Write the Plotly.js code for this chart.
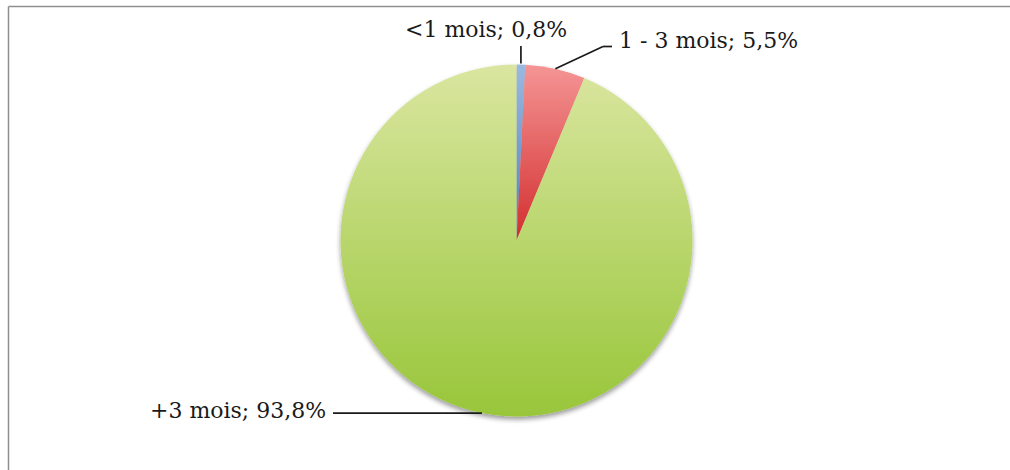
<!DOCTYPE html>
<html>
<head>
<meta charset="utf-8">
<script src="https://cdn.plot.ly/plotly-3.0.1.min.js"></script>
<style>
  html, body { margin: 0; padding: 0; background: #ffffff; }
  #chart { width: 1010px; height: 470px; }
</style>
</head>
<body>
<div id="chart"></div>
<script>
// ---- data ----
const categories = ['<1 mois', '1 - 3 mois', '+3 mois'];
const values = [0.8, 5.5, 93.8];
const valueLabels = ['0,8%', '5,5%', '93,8%'];
const colors = ['#8eacd6', '#e86a6a', '#bcd670'];
const gradientTop = ['#9ab9e0', '#f59595', '#dae6a0'];
const gradientBottom = ['#4f7fc0', '#d32e2e', '#98c63a'];

// ---- geometry of the pie (pixels in the 1010x470 page) ----
const W = 1010, H = 470;
const cx = 516.5, cy = 240.5, R = 176;

const dom = {
  x: [(cx - R) / W, (cx + R) / W],
  y: [1 - (cy + R) / H, 1 - (cy - R) / H]
};

// label anchor points (text placement)
const labelPos = [
  {x: 486, y: 30, xanchor: 'center', elbow: null},
  {x: 617, y: 40, xanchor: 'left', elbow: {x: 603, y: 46.5, end: 612}},
  {x: 328, y: 410, xanchor: 'right', elbow: null}
];

// compute mid-angles of slices from the data
const total = values.reduce((a, b) => a + b, 0);
let cum = 0;
const mids = values.map(v => { const m = (cum + v / 2) / total; cum += v; return m * 2 * Math.PI; });
const edgePts = mids.map(a => ({x: cx + R * Math.sin(a), y: cy - R * Math.cos(a)}));

const px = x => x / W;
const py = y => 1 - y / H;

const shapes = [
  // chart border (top and left)
  {type: 'line', xref: 'paper', yref: 'paper', x0: px(8.5), x1: px(1010), y0: py(6.5), y1: py(6.5), line: {color: '#8f8f8f', width: 1.5}},
  {type: 'line', xref: 'paper', yref: 'paper', x0: px(8.5), x1: px(8.5), y0: py(6.5), y1: py(470), line: {color: '#8f8f8f', width: 1.5}}
];

const lineStyle = {color: '#1a1a1a', width: 1.7};
// leader for <1 mois: vertical from slice edge up to label
shapes.push({type: 'line', xref: 'paper', yref: 'paper',
  x0: px(edgePts[0].x), y0: py(edgePts[0].y - 1), x1: px(edgePts[0].x), y1: py(46), line: lineStyle});
// leader for 1 - 3 mois: diagonal then short horizontal
shapes.push({type: 'line', xref: 'paper', yref: 'paper',
  x0: px(edgePts[1].x), y0: py(edgePts[1].y), x1: px(labelPos[1].elbow.x), y1: py(labelPos[1].elbow.y), line: lineStyle});
shapes.push({type: 'line', xref: 'paper', yref: 'paper',
  x0: px(labelPos[1].elbow.x), y0: py(labelPos[1].elbow.y), x1: px(labelPos[1].elbow.end), y1: py(labelPos[1].elbow.y), line: lineStyle});
// leader for +3 mois: horizontal from label to slice edge
shapes.push({type: 'line', xref: 'paper', yref: 'paper',
  x0: px(333), y0: py(edgePts[2].y), x1: px(edgePts[2].x), y1: py(edgePts[2].y), line: lineStyle});

const annotations = categories.map((c, i) => ({
  xref: 'paper', yref: 'paper',
  x: px(labelPos[i].x), y: py(labelPos[i].y),
  xanchor: labelPos[i].xanchor, yanchor: 'middle',
  text: c + '; ' + valueLabels[i],
  showarrow: false,
  font: {family: 'DejaVu Serif, serif', size: 22, color: '#1a1a1a'}
}));

const trace = {
  type: 'pie',
  labels: categories,
  values: values,
  sort: false,
  direction: 'clockwise',
  rotation: 0,
  textinfo: 'none',
  hoverinfo: 'label+percent',
  marker: {colors: colors, line: {width: 0}},
  domain: dom,
  showlegend: false
};

const layout = {
  width: W, height: H,
  margin: {l: 0, r: 0, t: 0, b: 0},
  paper_bgcolor: '#ffffff',
  showlegend: false,
  shapes: shapes,
  annotations: annotations
};

Plotly.newPlot('chart', [trace], layout, {staticPlot: true}).then(gd => {
  const svg = gd.querySelector('svg.main-svg');
  const NS = 'http://www.w3.org/2000/svg';
  let defs = svg.querySelector('defs');
  if (!defs) { defs = document.createElementNS(NS, 'defs'); svg.insertBefore(defs, svg.firstChild); }
  categories.forEach((c, i) => {
    const g = document.createElementNS(NS, 'linearGradient');
    g.setAttribute('id', 'sliceGrad' + i);
    g.setAttribute('x1', '0'); g.setAttribute('y1', '0');
    g.setAttribute('x2', '0'); g.setAttribute('y2', '1');
    const s1 = document.createElementNS(NS, 'stop');
    s1.setAttribute('offset', '0'); s1.setAttribute('stop-color', gradientTop[i]);
    const s2 = document.createElementNS(NS, 'stop');
    s2.setAttribute('offset', '1'); s2.setAttribute('stop-color', gradientBottom[i]);
    g.appendChild(s1); g.appendChild(s2);
    defs.appendChild(g);
  });
  const f = document.createElementNS(NS, 'filter');
  f.setAttribute('id', 'pieShadow');
  f.setAttribute('x', '-10%'); f.setAttribute('y', '-10%');
  f.setAttribute('width', '120%'); f.setAttribute('height', '125%');
  f.innerHTML = '<feGaussianBlur in="SourceAlpha" stdDeviation="2.5"/>' +
    '<feOffset dx="0" dy="3" result="ob"/>' +
    '<feComponentTransfer><feFuncA type="linear" slope="0.4"/></feComponentTransfer>' +
    '<feMerge><feMergeNode/><feMergeNode in="SourceGraphic"/></feMerge>';
  defs.appendChild(f);
  const paths = gd.querySelectorAll('.pielayer .slice path.surface');
  paths.forEach((p, i) => { p.style.fill = 'url(#sliceGrad' + i + ')'; });
  const tr = gd.querySelector('.pielayer .trace');
  if (tr) tr.setAttribute('filter', 'url(#pieShadow)');
});
</script>
</body>
</html>
